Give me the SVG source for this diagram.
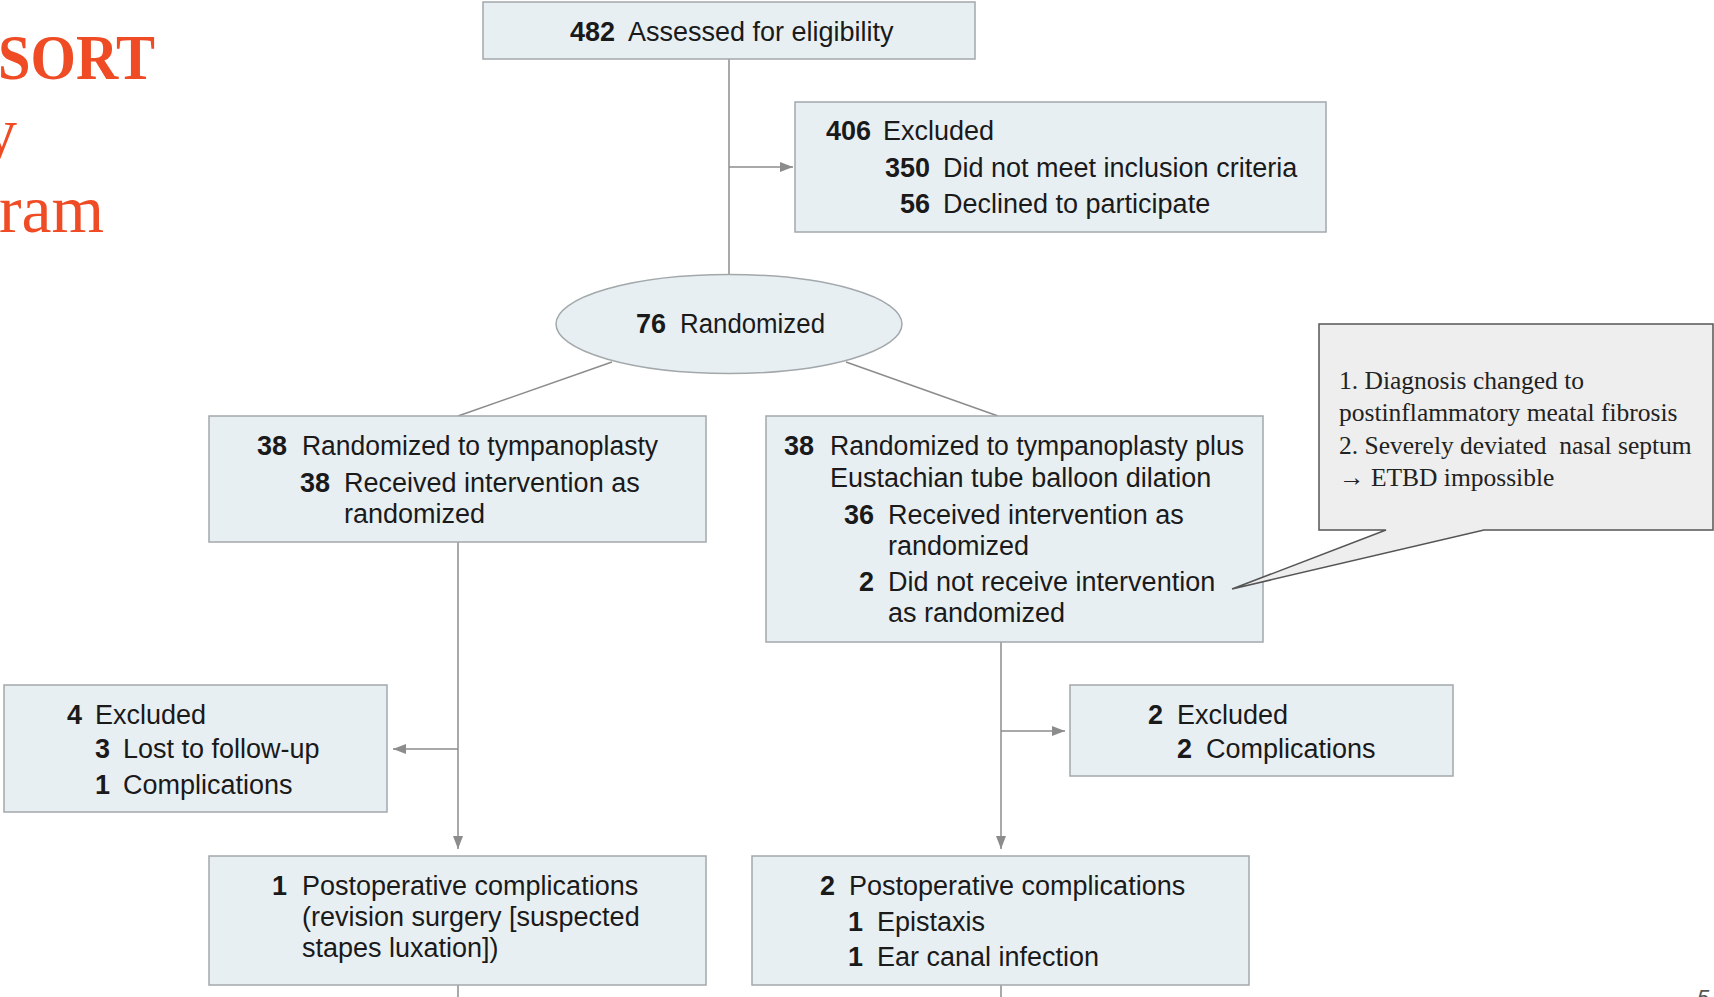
<svg xmlns="http://www.w3.org/2000/svg" width="1714" height="997" viewBox="0 0 1714 997">
<style>
.bx{fill:#E8EFF3;stroke:#A3A8AB;stroke-width:1.5}
.t{font-family:"Liberation Sans",Arial,sans-serif;font-size:27px;fill:#1a1a1a}
.n{font-weight:bold;text-anchor:end}
.c{fill:none;stroke:#8C8C8C;stroke-width:1.5}
.ttl{font-family:"Liberation Serif","Times New Roman",serif;fill:#EF4B24}
.note{font-family:"Liberation Serif","Times New Roman",serif;font-size:25.5px;fill:#222}
</style>
<defs>
<marker id="ah" markerUnits="userSpaceOnUse" markerWidth="13" markerHeight="10" refX="13" refY="5" orient="auto">
<path d="M0,0 L13,5 L0,10 Z" fill="#8C8C8C"/>
</marker>
</defs>
<rect width="1714" height="997" fill="#ffffff"/>
<g id="title">
<text class="ttl" x="-2" y="79" font-size="64" font-weight="bold" textLength="157" lengthAdjust="spacingAndGlyphs">SORT</text>
<text class="ttl" x="17" y="155" font-size="68" text-anchor="end">y</text>
<text class="ttl" x="-1" y="232" font-size="68" textLength="105" lengthAdjust="spacingAndGlyphs">ram</text>
</g>
<g id="connectors">
<path class="c" d="M729,59 V274"/>
<path class="c" d="M729,167 H793" marker-end="url(#ah)"/>
<path class="c" d="M612,362 L458,416"/>
<path class="c" d="M846,362 L998,416"/>
<path class="c" d="M458,542 V849" marker-end="url(#ah)"/>
<path class="c" d="M458,749 H393" marker-end="url(#ah)"/>
<path class="c" d="M458,985 V997"/>
<path class="c" d="M1001,642 V849" marker-end="url(#ah)"/>
<path class="c" d="M1001,731 H1065" marker-end="url(#ah)"/>
<path class="c" d="M1001,985 V997"/>
</g>
<g id="assessed">
<rect class="bx" x="483" y="2" width="492" height="57"/>
<text class="t n" x="615" y="41">482</text>
<text class="t" x="628" y="41">Assessed for eligibility</text>
</g>
<g id="excluded1">
<rect class="bx" x="795" y="102" width="531" height="130"/>
<text class="t n" x="871" y="140">406</text>
<text class="t" x="883" y="140">Excluded</text>
<text class="t n" x="930" y="177">350</text>
<text class="t" x="943" y="177">Did not meet inclusion criteria</text>
<text class="t n" x="930" y="213">56</text>
<text class="t" x="943" y="213">Declined to participate</text>
</g>
<g id="randomized">
<ellipse class="bx" cx="729" cy="324" rx="173" ry="49.5"/>
<text class="t n" x="666" y="333">76</text>
<text class="t" x="680" y="333" textLength="145" lengthAdjust="spacingAndGlyphs">Randomized</text>
</g>
<g id="armA">
<rect class="bx" x="209" y="416" width="497" height="126"/>
<text class="t n" x="287" y="455">38</text>
<text class="t" x="302" y="455" textLength="356" lengthAdjust="spacingAndGlyphs">Randomized to tympanoplasty</text>
<text class="t n" x="330" y="492">38</text>
<text class="t" x="344" y="492">Received intervention as</text>
<text class="t" x="344" y="523">randomized</text>
</g>
<g id="armB">
<rect class="bx" x="766" y="416" width="497" height="226"/>
<text class="t n" x="814" y="455">38</text>
<text class="t" x="830" y="455" textLength="414" lengthAdjust="spacingAndGlyphs">Randomized to tympanoplasty plus</text>
<text class="t" x="830" y="487">Eustachian tube balloon dilation</text>
<text class="t n" x="874" y="524">36</text>
<text class="t" x="888" y="524">Received intervention as</text>
<text class="t" x="888" y="555">randomized</text>
<text class="t n" x="874" y="591">2</text>
<text class="t" x="888" y="591">Did not receive intervention</text>
<text class="t" x="888" y="622">as randomized</text>
</g>
<g id="callout">
<path d="M1319,324 H1713 V530 H1484 L1232,589 L1386,530 H1319 Z" fill="#EEEEEE" stroke="#555555" stroke-width="1.5"/>
<text class="note" x="1339" y="389">1. Diagnosis changed to</text>
<text class="note" x="1339" y="421">postinflammatory meatal fibrosis</text>
<text class="note" x="1339" y="454" xml:space="preserve">2. Severely deviated  nasal septum</text>
<text class="note" x="1339" y="486">→ ETBD impossible</text>
</g>
<g id="excludedA">
<rect class="bx" x="4" y="685" width="383" height="127"/>
<text class="t n" x="82" y="724">4</text>
<text class="t" x="95" y="724">Excluded</text>
<text class="t n" x="110" y="758">3</text>
<text class="t" x="123" y="758">Lost to follow-up</text>
<text class="t n" x="110" y="794">1</text>
<text class="t" x="123" y="794">Complications</text>
</g>
<g id="excludedB">
<rect class="bx" x="1070" y="685" width="383" height="91"/>
<text class="t n" x="1163" y="724">2</text>
<text class="t" x="1177" y="724">Excluded</text>
<text class="t n" x="1192" y="758">2</text>
<text class="t" x="1206" y="758">Complications</text>
</g>
<g id="complA">
<rect class="bx" x="209" y="856" width="497" height="129"/>
<text class="t n" x="287" y="895">1</text>
<text class="t" x="302" y="895">Postoperative complications</text>
<text class="t" x="302" y="926">(revision surgery [suspected</text>
<text class="t" x="302" y="957">stapes luxation])</text>
</g>
<g id="complB">
<rect class="bx" x="752" y="856" width="497" height="129"/>
<text class="t n" x="835" y="895">2</text>
<text class="t" x="849" y="895">Postoperative complications</text>
<text class="t n" x="863" y="931">1</text>
<text class="t" x="877" y="931">Epistaxis</text>
<text class="t n" x="863" y="966">1</text>
<text class="t" x="877" y="966">Ear canal infection</text>
</g>
<g id="pagenum">
<text x="1697" y="1005" font-family="Liberation Sans,Arial,sans-serif" font-size="22" font-style="italic" fill="#555555">5</text>
</g>
</svg>
